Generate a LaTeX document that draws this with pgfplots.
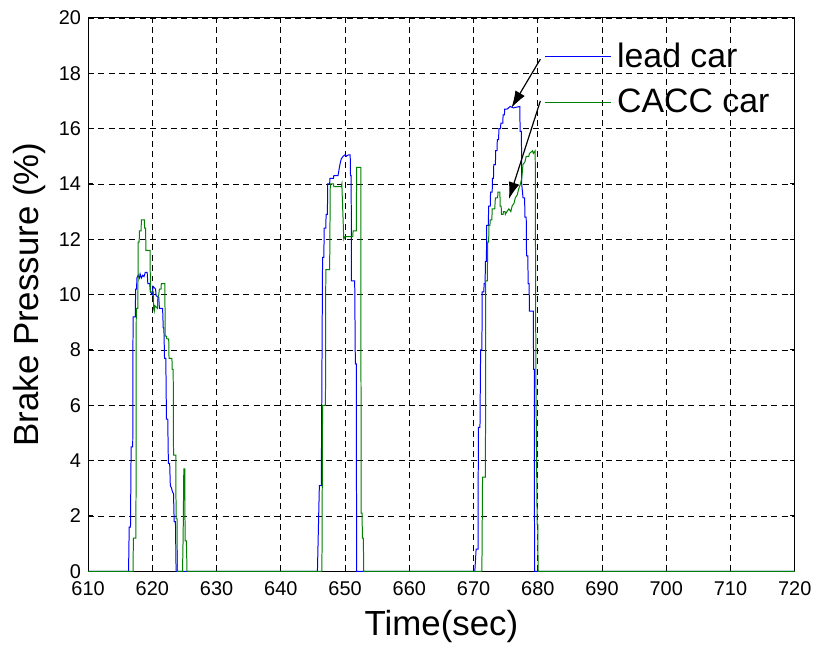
\documentclass[border=0pt]{standalone}
\usepackage{pgfplots}
\pgfplotsset{compat=1.18}
\usepackage{fontspec}
\setmainfont{Liberation Sans}
\usetikzlibrary{arrows.meta}
\definecolor{mblue}{rgb}{0,0,1}
\definecolor{mgreen}{rgb}{0,0.5,0}
\begin{document}
\begin{tikzpicture}
\begin{axis}[
  scale only axis, width=355pt, height=278pt,
  xmin=610, xmax=720, ymin=0, ymax=20,
  xtick={610,620,...,720}, ytick={0,2,...,20},
  grid=major,
  major grid style={black, line width=0.4pt, dash pattern=on 3pt off 2.2pt},
  tick align=inside, major tick length=2.5pt,
  axis line style={line width=0.5pt},
  tick style={black, line width=0.5pt},
  /pgf/number format/assume math mode=true,
  tick label style={font=\fontsize{10}{12}\selectfont},
  xticklabel style={yshift=-1.5pt},
  label style={font=\fontsize{17.5}{20}\selectfont},
  xlabel={Time(sec)}, ylabel={Brake Pressure (\%)},
  xlabel style={at={(axis description cs:0.5,-0.1151)}, anchor=base},
  ylabel style={at={(axis description cs:-0.0704,0.5)}, anchor=base},
  legend style={draw=none, fill=none, at={(axis description cs:0.645,0.963)}, anchor=north west,
    font=\fontsize{17}{20}\selectfont, row sep=5.5pt, inner sep=0pt,
    nodes={inner xsep=3pt}},
  legend cell align=left,
  legend image code/.code={\draw[#1, line width=0.6pt] (0pt,0pt) -- (33pt,0pt);},
  every axis plot/.append style={line width=0.5pt},
]
\addplot[mblue] coordinates {
(610,0) (616.3,0) (616.4,1.6) (616.6,1.6) (616.7,4.5) (616.95,4.5) (617.0,9.2) (617.35,9.2)
(617.4,10.2) (617.55,10.2) (617.6,10.6) (617.8,10.7) (618.0,10.6) (618.1,10.75) (618.3,10.6)
(618.5,10.7) (618.7,10.65) (618.9,10.8) (619.2,10.8) (619.3,10.4) (619.6,10.4) (619.7,10.1)
(620.0,10.0) (620.1,10.3) (620.5,10.2) (620.6,9.96) (621.0,9.9) (621.1,9.5) (621.6,9.5)
(621.7,8.8) (621.8,8.8) (621.9,7.7) (622.1,7.7) (622.2,5.5) (622.4,5.5) (622.5,3.9) (622.7,3.9)
(622.8,3.1) (623.0,3.0) (623.1,2.9) (623.3,2.8) (623.4,1.8) (623.6,1.8) (623.7,0)
(645.7,0) (646.0,3.1) (646.3,3.1) (646.5,11.35) (646.7,11.35) (646.75,12.4) (647.0,12.4)
(647.05,12.9) (647.25,12.9) (647.3,14.0) (647.6,14.0) (647.65,14.2) (648.2,14.2) (648.25,14.3)
(648.9,14.3) (649.2,14.7) (649.4,14.9) (649.7,15.0) (650.0,15.05) (650.2,15.0) (650.5,15.05)
(650.8,15.05) (650.85,14.3) (650.95,14.3) (651.0,10.5) (651.5,10.5) (651.6,7.5) (651.75,7.5) (651.8,0)
(670.2,0) (670.4,0.8) (670.7,0.8) (670.75,5.2) (671.0,5.2) (671.1,8.0) (671.3,8.0) (671.35,10.1)
(671.6,10.1) (671.65,10.4) (671.8,10.4) (671.85,11.2) (672.0,11.2) (672.05,12.5) (672.3,12.5)
(672.35,13.2) (672.6,13.2) (672.65,13.7) (672.9,13.7) (672.95,14.2) (673.1,14.2) (673.15,14.7)
(673.4,14.7) (673.45,15.2) (673.65,15.2) (673.7,15.6) (673.9,15.6) (673.95,16.0) (674.2,16.0)
(674.25,16.2) (674.55,16.2) (674.6,16.5) (674.8,16.5) (674.85,16.7) (675.2,16.7) (675.7,16.8)
(676.2,16.75) (677.2,16.8) (677.25,15.9) (677.45,15.9) (677.5,14.0) (677.7,13.5) (677.95,13.5)
(678.0,12.8) (678.2,12.8) (678.25,11.4) (678.45,11.4) (678.5,10.4) (678.65,10.4) (678.7,9.4)
(679.3,9.4) (679.35,7.3) (679.45,7.3) (679.5,0) (720,0)
};
\addlegendentry{lead car}
\addplot[mgreen] coordinates {
(610,0) (617.0,0) (617.05,1.2) (617.45,1.2) (617.5,9.5) (617.75,9.5) (617.8,11.9) (617.95,11.9)
(618.0,12.3) (618.25,12.3) (618.3,12.7) (618.75,12.7) (618.8,12.4) (618.95,12.4) (619.0,11.6)
(619.65,11.6) (619.7,10.1) (620.15,10.1) (620.2,9.5) (620.3,9.4) (620.4,9.6) (620.8,9.5)
(620.85,9.9) (621.0,10.0) (621.1,10.2) (621.35,10.2) (621.4,10.4) (621.95,10.4) (622.0,8.5)
(622.2,8.5) (622.25,8.4) (622.55,8.4) (622.6,7.7) (623.05,7.7) (623.1,7.3) (623.25,7.3)
(623.3,4.2) (623.65,4.2) (623.7,1.9) (623.85,1.9) (623.9,0) (624.7,0) (624.8,1.3) (624.9,3.7)
(625.05,3.7) (625.1,1.1) (625.3,1.1) (625.4,0)
(646.4,0) (646.5,6.0) (646.95,6.0) (647.0,10.9) (647.6,10.9) (647.7,14.0) (648.2,14.0)
(648.25,13.9) (649.4,13.9) (649.5,14.0) (649.8,12.0) (650.0,12.1) (651.2,12.1) (651.25,12.3)
(651.75,12.3) (651.8,14.6) (652.45,14.6) (652.5,2.1) (652.65,2.1) (652.7,1.2) (652.85,1.2) (652.9,0)
(671.3,0) (671.4,3.4) (671.85,3.4) (671.9,10.5) (672.15,10.5) (672.2,11.9) (672.35,11.9)
(672.4,12.5) (672.55,12.5) (672.6,12.7) (672.85,12.7) (672.9,13.1) (673.3,13.1) (673.4,13.5)
(673.75,13.5) (673.8,13.7) (674.1,13.7) (674.15,13.2) (674.3,13.2) (674.35,12.9) (674.6,12.9)
(674.65,13.0) (674.9,13.0) (674.95,12.9) (675.2,13.0) (675.5,13.1) (675.8,13.0) (676.0,13.2)
(676.3,13.3) (676.5,13.5) (676.8,13.6) (677.0,13.8) (677.3,14.0) (677.5,14.2) (677.7,14.7)
(678.0,14.8) (678.2,15.0) (678.6,15.0) (678.7,15.1) (679.2,15.2) (679.3,15.1) (679.6,15.2)
(679.7,7.2) (679.9,1.7) (680.0,1.7) (680.05,0) (720,0)
};
\addlegendentry{CACC car}
\draw[black, line width=0.6pt, -{Latex[length=8.5pt,width=5.5pt]}] (axis cs:680.4,18.51) -- (axis cs:675.9,16.75);
\draw[black, line width=0.6pt, -{Latex[length=8.5pt,width=5.5pt]}] (axis cs:680.4,17.0) -- (axis cs:675.5,13.45);
\end{axis}
\path (current axis.south west) ++(-44.25pt,-37pt) rectangle ++(0.01pt,0.01pt);
\path (current axis.north east) ++(10pt,9pt) rectangle ++(-0.01pt,-0.01pt);
\end{tikzpicture}
\end{document}
